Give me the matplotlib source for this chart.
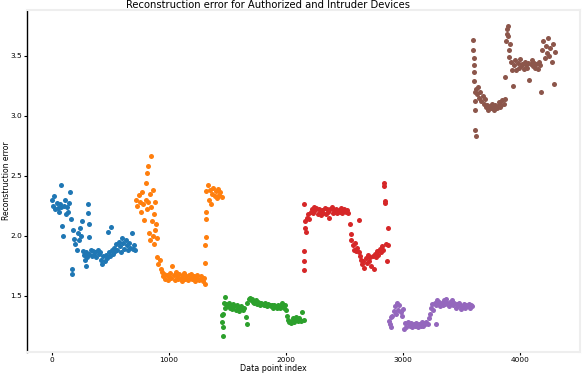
from matplotlib import pyplot as plt
import numpy as np

# device 0 (authorized)
blue_idx = [0, 10, 20, 30, 40, 50, 60, 70, 77, 80, 90, 95, 100, 110, 120, 130, 140, 150, 155, 160,
            170, 172, 180, 190, 200, 210, 220, 230, 240, 250, 260, 265, 270, 280, 290, 295, 300,
            310, 312, 314, 316, 320, 330, 340, 350, 360, 370, 380, 390, 400, 410, 420, 430, 440,
            450, 460, 470, 480, 490, 500, 505, 510, 520, 530, 540, 550, 560, 570, 580, 590, 600,
            610, 620, 630, 640, 650, 660, 670, 680, 690, 700, 710]
blue_err = [2.30, 2.25, 2.33, 2.22, 2.27, 2.23, 2.20, 2.26, 2.42, 2.24, 2.08, 2.00, 2.25, 2.30, 2.18,
            2.24, 2.20, 2.27, 2.36, 2.14, 1.72, 1.68, 2.05, 1.97, 1.93, 1.88, 2.02, 1.96, 2.06, 2.00,
            2.12, 1.87, 1.84, 1.80, 1.86, 1.75, 1.82, 2.26, 2.19, 2.10, 1.99, 1.85, 1.88, 1.83, 1.87,
            1.84, 1.86, 1.82, 1.88, 1.85, 1.86, 1.80, 1.76, 1.83, 1.79, 1.84, 1.81, 2.03, 1.86, 1.83,
            2.07, 1.88, 1.85, 1.90, 1.87, 1.93, 1.88, 1.95, 1.91, 1.86, 1.98, 1.94, 1.89, 1.96, 1.92,
            1.88, 1.94, 1.90, 2.02, 1.89, 1.92, 1.88]

orange_idx = [720, 730, 740, 750, 760, 770, 780, 790, 800, 805, 810, 815, 820, 825, 830, 835, 840,
              845, 850, 855, 860, 865, 870, 875, 880, 885, 890, 895, 900, 910, 920, 930, 940, 950,
              960, 970, 980, 990, 1000, 1010, 1020, 1030, 1040, 1050, 1060, 1070, 1080, 1090, 1100,
              1110, 1120, 1130, 1140, 1150, 1160, 1170, 1180, 1190, 1200, 1210, 1220, 1230, 1240,
              1250, 1260, 1270, 1280, 1290, 1300, 1305, 1310, 1312, 1314, 1316, 1318, 1320, 1330,
              1340, 1350, 1360, 1370, 1380, 1390, 1400, 1410, 1420, 1430, 1440, 1450]
orange_err = [2.30, 2.25, 2.34, 2.28, 2.20, 2.36, 2.26, 2.13, 2.30, 2.44, 2.22, 2.52, 2.28, 2.58,
              2.02, 2.35, 1.96, 2.24, 2.66, 2.12, 2.38, 2.00, 2.18, 1.93, 2.05, 2.28, 2.10, 1.98,
              1.82, 1.76, 1.80, 1.72, 1.70, 1.66, 1.68, 1.64, 1.67, 1.63, 1.66, 1.69, 1.65, 1.75,
              1.67, 1.63, 1.70, 1.66, 1.64, 1.68, 1.65, 1.62, 1.67, 1.69, 1.64, 1.66, 1.63, 1.67,
              1.65, 1.68, 1.64, 1.66, 1.62, 1.65, 1.67, 1.64, 1.63, 1.66, 1.64, 1.62, 1.65, 1.60,
              1.77, 1.92, 1.99, 2.14, 2.20, 2.37, 2.42, 2.30, 2.38, 2.26, 2.35, 2.40, 2.33, 2.37,
              2.31, 2.39, 2.34, 2.36, 2.32]

green_idx = [1450, 1455, 1460, 1462, 1465, 1470, 1475, 1480, 1490, 1500, 1510, 1520, 1530, 1540,
             1550, 1560, 1570, 1580, 1590, 1600, 1610, 1620, 1630, 1640, 1660, 1665, 1670, 1680,
             1690, 1700, 1710, 1720, 1730, 1740, 1750, 1760, 1770, 1780, 1790, 1800, 1810, 1820,
             1830, 1840, 1850, 1860, 1870, 1880, 1890, 1900, 1910, 1920, 1930, 1940, 1950, 1960,
             1970, 1980, 1990, 2000, 2010, 2020, 2030, 2040, 2050, 2060, 2070, 2080, 2090, 2100,
             2110, 2120, 2130, 2140, 2150]
green_err = [1.34, 1.28, 1.16, 1.24, 1.35, 1.44, 1.49, 1.40, 1.43, 1.41, 1.44, 1.40, 1.42, 1.39,
             1.43, 1.41, 1.38, 1.42, 1.40, 1.37, 1.39, 1.41, 1.38, 1.40, 1.32, 1.26, 1.44, 1.47,
             1.48, 1.46, 1.47, 1.45, 1.44, 1.46, 1.43, 1.45, 1.44, 1.42, 1.44, 1.43, 1.42, 1.44,
             1.42, 1.41, 1.43, 1.42, 1.41, 1.42, 1.40, 1.42, 1.41, 1.40, 1.42, 1.41, 1.40, 1.41,
             1.44, 1.40, 1.42, 1.38, 1.33, 1.30, 1.28, 1.27, 1.29, 1.31, 1.28, 1.30, 1.32, 1.29,
             1.31, 1.30, 1.29, 1.36, 1.30]

red_idx = [2150, 2152, 2154, 2156, 2160, 2165, 2170, 2180, 2190, 2200, 2210, 2220, 2230, 2240,
           2250, 2260, 2270, 2280, 2290, 2300, 2310, 2320, 2330, 2340, 2350, 2360, 2370, 2380,
           2390, 2400, 2410, 2420, 2430, 2440, 2450, 2460, 2470, 2480, 2490, 2500, 2510, 2520,
           2530, 2545, 2555, 2560, 2570, 2580, 2590, 2600, 2610, 2620, 2625, 2630, 2640, 2650,
           2660, 2670, 2680, 2690, 2700, 2710, 2720, 2730, 2740, 2750, 2760, 2770, 2780, 2790,
           2800, 2810, 2820, 2830, 2835, 2840, 2845, 2850, 2855, 2860, 2870, 2875]
red_err = [1.71, 1.79, 1.87, 2.26, 2.06, 2.12, 2.03, 2.15, 2.18, 2.14, 2.20, 2.22, 2.19, 2.24,
           2.21, 2.23, 2.18, 2.22, 2.20, 2.17, 2.21, 2.19, 2.23, 2.18, 2.22, 2.20, 2.15, 2.22,
           2.24, 2.19, 2.21, 2.20, 2.22, 2.19, 2.21, 2.20, 2.23, 2.19, 2.21, 2.22, 2.20, 2.21,
           2.19, 2.10, 2.01, 1.96, 1.92, 1.88, 1.94, 1.87, 1.90, 2.13, 1.86, 1.83, 1.80, 1.76,
           1.79, 1.73, 1.81, 1.77, 1.84, 1.79, 1.82, 1.75, 1.83, 1.72, 1.85, 1.82, 1.87, 1.84,
           1.89, 1.86, 1.91, 1.88, 2.44, 2.41, 2.29, 2.27, 1.93, 1.79, 2.06, 1.92]

purple_idx = [2880, 2890, 2895, 2900, 2910, 2920, 2930, 2940, 2950, 2960, 2970, 2980, 2990, 3000,
              3010, 3020, 3030, 3040, 3050, 3060, 3070, 3080, 3090, 3100, 3110, 3120, 3130, 3140,
              3150, 3160, 3170, 3180, 3190, 3200, 3210, 3220, 3230, 3240, 3250, 3260, 3270, 3280,
              3285, 3290, 3300, 3310, 3320, 3330, 3340, 3350, 3360, 3370, 3380, 3390, 3400, 3410,
              3420, 3430, 3440, 3450, 3460, 3470, 3480, 3490, 3500, 3510, 3520, 3530, 3540, 3550,
              3560, 3570, 3580, 3590]
purple_err = [1.29, 1.26, 1.32, 1.24, 1.33, 1.37, 1.41, 1.35, 1.44, 1.38, 1.42, 1.36, 1.33, 1.39,
              1.22, 1.27, 1.24, 1.28, 1.26, 1.25, 1.27, 1.24, 1.26, 1.25, 1.27, 1.25, 1.24, 1.26,
              1.25, 1.28, 1.25, 1.27, 1.26, 1.28, 1.26, 1.31, 1.35, 1.40, 1.43, 1.38, 1.44, 1.26,
              1.42, 1.46, 1.43, 1.45, 1.41, 1.44, 1.42, 1.46, 1.43, 1.47, 1.44, 1.41, 1.45, 1.43,
              1.46, 1.42, 1.44, 1.40, 1.43, 1.41, 1.44, 1.42, 1.39, 1.41, 1.43, 1.40, 1.42, 1.41,
              1.43, 1.40, 1.42, 1.41]

# device 5 (intruder)
brown_idx = [3600, 3602, 3604, 3606, 3608, 3610, 3612, 3614, 3616, 3618, 3620, 3625, 3630, 3640,
             3650, 3660, 3670, 3680, 3690, 3700, 3710, 3720, 3730, 3740, 3750, 3760, 3770, 3780,
             3790, 3800, 3810, 3820, 3830, 3840, 3850, 3860, 3870, 3875, 3880, 3885, 3890, 3895,
             3900, 3905, 3910, 3915, 3920, 3930, 3940, 3950, 3960, 3970, 3980, 3990, 4000, 4010,
             4020, 4030, 4040, 4050, 4060, 4070, 4080, 4090, 4100, 4110, 4120, 4130, 4140, 4150,
             4160, 4170, 4180, 4190, 4200, 4210, 4220, 4230, 4240, 4250, 4260, 4270, 4280, 4290,
             4300]
brown_err = [3.63, 3.55, 3.48, 3.42, 3.36, 3.29, 3.20, 3.12, 3.05, 2.88, 2.83, 3.22, 3.18, 3.24,
             3.15, 3.20, 3.12, 3.16, 3.10, 3.14, 3.07, 3.09, 3.05, 3.08, 3.06, 3.10, 3.07, 3.05,
             3.09, 3.06, 3.08, 3.11, 3.07, 3.09, 3.13, 3.10, 3.32, 3.14, 3.62, 3.68, 3.72, 3.75,
             3.66, 3.55, 3.49, 3.60, 3.45, 3.38, 3.25, 3.42, 3.46, 3.38, 3.44, 3.40, 3.47, 3.41,
             3.43, 3.39, 3.45, 3.42, 3.40, 3.44, 3.30, 3.43, 3.46, 3.41, 3.44, 3.40, 3.43, 3.39,
             3.45, 3.42, 3.20, 3.55, 3.62, 3.48, 3.58, 3.52, 3.65, 3.50, 3.56, 3.45, 3.60, 3.26,
             3.53]

groups = [(blue_idx, blue_err), (orange_idx, orange_err), (green_idx, green_err),
          (red_idx, red_err), (purple_idx, purple_err), (brown_idx, brown_err)]

fig = plt.figure(figsize=(5.82, 3.74), dpi=100)
ax = fig.add_axes([0.046, 0.059, 0.951, 0.914])

for i, (idx, err) in enumerate(groups):
    ax.scatter(idx, err, s=13, color=f"C{i}", linewidths=0)

ax.set_title("Reconstruction error for Authorized and Intruder Devices", fontsize=7.2,
             pad=1.5, x=0.436)
ax.set_xlabel("Data point index", fontsize=5.8, labelpad=1)
ax.xaxis.set_label_coords(0.445, -0.035)
ax.set_ylabel("Reconstruction error", fontsize=5.5, labelpad=1)
ax.yaxis.set_label_coords(-0.029, 0.5)
ax.set_xticks([0, 1000, 2000, 3000, 4000])
ax.set_yticks([1.5, 2.0, 2.5, 3.0, 3.5])
ax.tick_params(labelsize=5.3, length=2.5, width=0.8, pad=1)

for side in ['top', 'right', 'bottom']:
    ax.spines[side].set_color('#eeeeee')
    ax.spines[side].set_linewidth(1.5)
ax.spines['left'].set_color('black')
ax.spines['left'].set_linewidth(1.0)

plt.savefig("out.png", dpi=100)
